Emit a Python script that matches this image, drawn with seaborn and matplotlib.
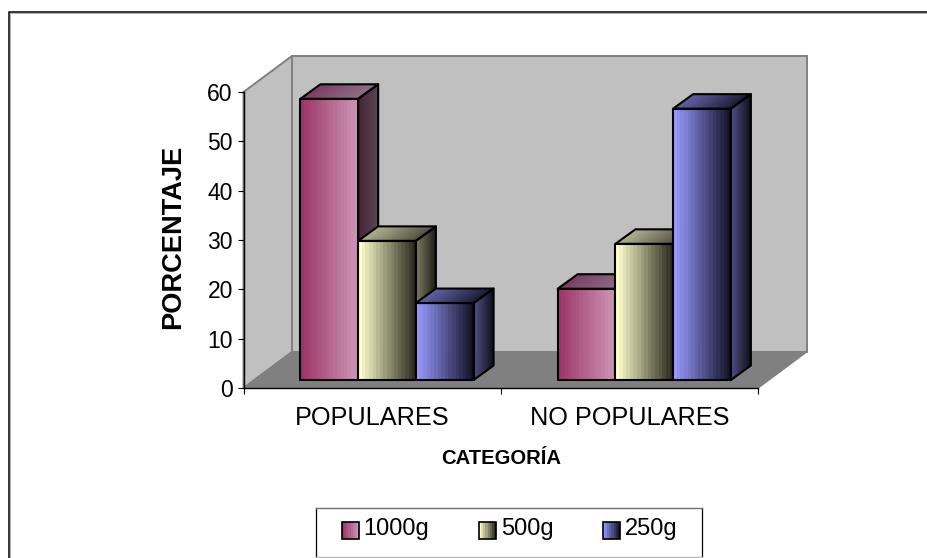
import matplotlib
matplotlib.use("Agg")
import matplotlib.pyplot as plt
from matplotlib.colors import to_rgb
from matplotlib.legend_handler import HandlerBase
from matplotlib.lines import Line2D
from matplotlib.patches import Patch, Polygon, Rectangle
import numpy as np
import pandas as pd
import seaborn as sns

categories = ["POPULARES", "NO POPULARES"]
sizes = ["1000g", "500g", "250g"]
values_1000g = [57.0, 18.5]
values_500g = [28.2, 27.6]
values_250g = [15.6, 55.0]

# Shading of each series: front face, side face, top face as (start, end)
front_shades = {"1000g": ("#9c3668", "#cc94b4"),
                "500g": ("#ffffcc", "#2c2c20"),
                "250g": ("#9999ff", "#14142a")}
side_shades = {"1000g": ("#46203a", "#55464f"),
               "500g": ("#7c7c62", "#20201a"),
               "250g": ("#505088", "#10101e")}
top_shades = {"1000g": ("#7a3f62", "#8f6c86"),
              "500g": ("#b0b090", "#555545"),
              "250g": ("#6060a4", "#1e1e3a")}

W, H = 927, 558
plt.rcParams["font.family"] = ["Liberation Sans", "DejaVu Sans"]
fig = plt.figure(figsize=(W / 100, H / 100), dpi=100, facecolor="white")

# The axes is the front plane of the 3D box
left_px, right_px, base_px, top_px = 243.5, 758, 388, 92
ax = fig.add_axes([left_px / W, 1 - base_px / H,
                   (right_px - left_px) / W, (base_px - top_px) / H])
ax.set_facecolor("none")

table = pd.DataFrame({
    "categoria": categories * 3,
    "gramaje": [s for s in sizes for _ in categories],
    "porcentaje": values_1000g + values_500g + values_250g,
})
sns.barplot(data=table, x="categoria", y="porcentaje", hue="gramaje",
            hue_order=sizes, width=0.673, gap=0, ax=ax, legend=False,
            edgecolor="black", linewidth=0, zorder=5)
ax.set_xlim(-0.5, 1.5)
ax.set_ylim(0, 60)

px_x = 2 / (right_px - left_px)
px_y = 60 / (base_px - top_px)

# Depth of the box and of the bars, in data units
box_dx, box_dy = 48.5 * px_x, 36 * px_y
bar_dx, bar_dy = 20 * px_x, 14.5 * px_y
shift_x, shift_y = 14.9 * px_x, 8 * px_y

x0, x1 = -0.5, 1.5
wall_edge = "#808080"
ax.add_patch(Polygon([(x0 + box_dx, box_dy), (x1 + box_dx, box_dy),
                      (x1 + box_dx, 60 + box_dy), (x0 + box_dx, 60 + box_dy)],
                     fc="#c0c0c0", ec=wall_edge, lw=1.4, clip_on=False, zorder=1))
ax.add_patch(Polygon([(x0, 0), (x0 + box_dx, box_dy),
                      (x0 + box_dx, 60 + box_dy), (x0, 60)],
                     fc="#c0c0c0", ec=wall_edge, lw=1.4, clip_on=False, zorder=1.1))
ax.add_patch(Polygon([(x0, 0), (x1, 0), (x1 + box_dx, box_dy), (x0 + box_dx, box_dy)],
                     fc="#808080", ec=wall_edge, lw=1.1, clip_on=False, zorder=1.2))


def banded(pair, n=16):
    a, b = np.array(to_rgb(pair[0])), np.array(to_rgb(pair[1]))
    return [a + (b - a) * t for t in np.linspace(0, 1, n)]


def shaded_face(corners, pair, z):
    """Fill a parallelogram with vertical colour bands, corners ordered
    lower-left, lower-right, upper-right, upper-left."""
    c = np.array(corners, float)
    bands = banded(pair)
    n = len(bands)
    for i, col in enumerate(bands):
        t0, t1 = i / n, (i + 1) / n
        pts = [c[0] + (c[1] - c[0]) * t0, c[0] + (c[1] - c[0]) * t1,
               c[3] + (c[2] - c[3]) * t1, c[3] + (c[2] - c[3]) * t0]
        ax.add_patch(Polygon(pts, fc=col, ec=col, lw=0.6, clip_on=False, zorder=z))
    ax.add_patch(Polygon(c, fc="none", ec="black", lw=1.5, joinstyle="round",
                         clip_on=False, zorder=z + 0.05))


# Bars come from seaborn; each is moved into the box and given its 3D faces
n_cat = len(categories)
for s, size in enumerate(sizes):
    for c in range(n_cat):
        bar = ax.patches[s * n_cat + c]
        bar.set_x(bar.get_x() + shift_x)
        bar.set_y(shift_y)
        bar.set_facecolor("none")
        xa, xb = bar.get_x(), bar.get_x() + bar.get_width()
        ya, yb = shift_y, shift_y + bar.get_height()
        z = 3 + c + s * 0.1
        shaded_face([(xb, ya), (xb + bar_dx, ya + bar_dy),
                     (xb + bar_dx, yb + bar_dy), (xb, yb)], side_shades[size], z)
        shaded_face([(xa, yb), (xb, yb),
                     (xb + bar_dx, yb + bar_dy), (xa + bar_dx, yb + bar_dy)],
                    top_shades[size], z + 0.01)
        shaded_face([(xa, ya), (xb, ya), (xb, yb), (xa, yb)],
                    front_shades[size], z + 0.02)

# Axes, ticks and titles
for side in ("top", "right"):
    ax.spines[side].set_visible(False)
for side in ("left", "bottom"):
    ax.spines[side].set_linewidth(1.0)
    ax.spines[side].set_color("black")
    ax.spines[side].set_zorder(2)
ax.set_yticks(range(0, 61, 10))
ax.tick_params(axis="y", labelsize=16.5, length=4.5, width=0.8, pad=3.2, color="black")
ax.set_xticks([0, 1])
ax.set_xticklabels(categories)
ax.set_xticks([-0.5, 0.5, 1.5], minor=True)
ax.tick_params(axis="x", which="major", labelsize=18.2, length=0, pad=13)
ax.tick_params(axis="x", which="minor", length=4.5, width=0.8)
ax.set_xlabel("")
ax.set_ylabel("")
fig.text(173 / W, 1 - 237 / H, "PORCENTAJE", rotation=90, ha="center", va="center",
         fontsize=19.6, fontweight="bold")
fig.text(501 / W, 1 - 458 / H, "CATEGORÍA", ha="center", va="center",
         fontsize=14.6, fontweight="bold")

# Chart frame: only the left and top edges fall inside the canvas
fig.add_artist(Line2D([8.5 / W, 8.5 / W, 1], [0, 1 - 11.5 / H, 1 - 11.5 / H],
                      transform=fig.transFigure, color="black", lw=1.1))
fig.add_artist(Line2D([9.8 / W, 9.8 / W, 1], [0, 1 - 12.8 / H, 1 - 12.8 / H],
                      transform=fig.transFigure, color="#b0b0b0", lw=0.7))


class BandedSwatch(HandlerBase):
    def create_artists(self, legend, orig_handle, xdescent, ydescent, width, height,
                       fontsize, trans):
        artists = []
        drop = 2.4  # swatches sit a little below the text
        bands = banded(front_shades[orig_handle.get_label()], n=8)
        for i, col in enumerate(bands):
            artists.append(Rectangle((-xdescent + width * i / 8, -ydescent - drop),
                                     width / 8, height, fc=col, ec=col, lw=0.2,
                                     transform=trans))
        artists.append(Rectangle((-xdescent, -ydescent - drop), width, height, fc="none",
                                 ec="black", lw=1.2, transform=trans))
        return artists


handles = [Patch(label=s) for s in sizes]
legend = fig.legend(handles=handles, labels=sizes,
                    handler_map={Patch: BandedSwatch()},
                    loc="upper left", bbox_to_anchor=(342 / W, 1 - 518.5 / H),
                    bbox_transform=fig.transFigure, ncol=3, fontsize=17,
                    frameon=False, borderaxespad=0, borderpad=0,
                    handlelength=0.72, handleheight=0.72, handletextpad=0.2,
                    columnspacing=2.1, labelspacing=0)

# Legend box with its grey top and bottom rules
lx0, lx1, ly0, ly1 = 315.5 / W, 701.5 / W, 1 - 557.2 / H, 1 - 507.7 / H
for xs, ys, col, lw in [([lx0, lx0], [ly0, ly1], "black", 0.9),
                        ([lx1, lx1], [ly0, ly1], "black", 0.9),
                        ([lx0, lx1], [ly1, ly1], "#707070", 1.0),
                        ([lx0, lx1], [ly0, ly0], "#b8b8b8", 1.0)]:
    fig.add_artist(Line2D(xs, ys, transform=fig.transFigure, color=col, lw=lw))

fig.savefig("out.png", dpi=100, facecolor="white")
